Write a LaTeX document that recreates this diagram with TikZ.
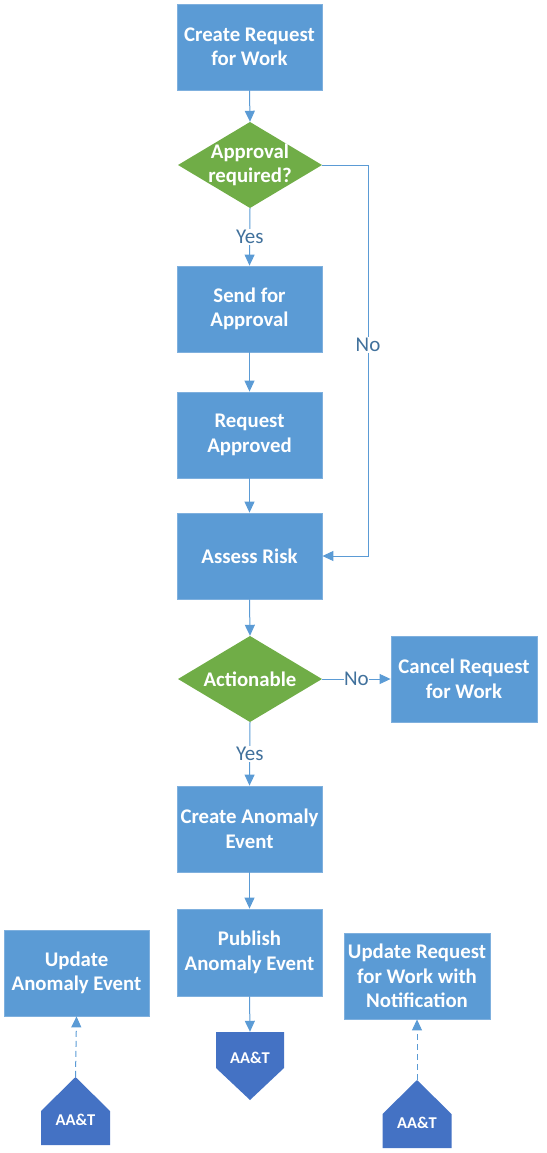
\documentclass[tikz,border=0pt]{standalone}
\usepackage{fontspec}
\setmainfont{Carlito}
\usetikzlibrary{arrows.meta,calc}
\definecolor{boxblue}{HTML}{5B9BD5}
\definecolor{boxedge}{HTML}{7FB0DE}
\definecolor{diagreen}{HTML}{70AD47}
\definecolor{pentblue}{HTML}{4472C4}
\definecolor{linecol}{HTML}{5B9BD5}
\definecolor{lblcol}{HTML}{41719C}
\begin{document}
\begin{tikzpicture}[x=1pt,y=-1pt,
  boxfont/.style={font=\bfseries\fontsize{20.8}{24.5}\selectfont},
  box/.style={rectangle, fill=boxblue, draw=boxedge, line width=0.8pt,
    minimum width=145pt, minimum height=86pt, inner sep=0pt, text=white,
    boxfont, align=center},
  dia/.style={rectangle, minimum width=144pt, minimum height=86pt, inner sep=0pt,
    text=white, boxfont, align=center,
    path picture={\fill[diagreen] (path picture bounding box.north) --
      (path picture bounding box.east) -- (path picture bounding box.south) --
      (path picture bounding box.west) -- cycle;}},
  pentfont/.style={font=\bfseries\fontsize{16.5}{18}\selectfont, text=white},
  pentdown/.style={rectangle, minimum width=68pt, minimum height=68pt, inner sep=0pt,
    path picture={\fill[pentblue] (path picture bounding box.north west) --
      (path picture bounding box.north east) --
      ($(path picture bounding box.north east)+(0,36)$) --
      (path picture bounding box.south) --
      ($(path picture bounding box.north west)+(0,36)$) -- cycle;},
    label={[pentfont, yshift=8pt]center:AA\&T}},
  pentup/.style={rectangle, minimum width=69pt, minimum height=68pt, inner sep=0pt,
    path picture={\fill[pentblue] (path picture bounding box.south west) --
      (path picture bounding box.south east) --
      ($(path picture bounding box.south east)+(0,-34)$) --
      (path picture bounding box.north) --
      ($(path picture bounding box.south west)+(0,-34)$) -- cycle;},
    label={[pentfont, yshift=-9pt]center:AA\&T}},
  arr/.style={draw=linecol, line width=1pt, -{Triangle[width=10pt,length=11pt]}},
  dasharr/.style={arr, dash pattern=on 6pt off 4pt},
  lbl/.style={fill=white, text=lblcol, inner sep=1.5pt, font=\fontsize{21}{22}\selectfont}
]
\useasboundingbox (0,0) rectangle (546,1153);

\node[box] (c1) at (249.5,47) {Create Request\\for Work};
\node[dia] (d1) at (250,165) {Approval\\required?};
\node[box] (send) at (249.5,309) {Send for\\Approval};
\node[box] (appr) at (249.5,435) {Request\\Approved};
\node[box] (risk) at (249.5,556) {Assess Risk};
\node[dia] (d2) at (250,679) {Actionable};
\node[box, minimum width=146pt] (cancel) at (464,679) {Cancel Request\\for Work};
\node[box] (cae) at (249.5,829) {Create Anomaly\\Event};
\node[box, minimum height=87pt] (pub) at (249.5,952.5) {Publish\\Anomaly Event};
\node[box] (updl) at (76.5,973) {Update\\Anomaly Event};
\node[box, minimum width=146pt] (updr) at (417,976) {Update Request\\for Work with\\Notification};
\node[pentdown] (pd) at (250,1066) {};
\node[pentup] (pl) at (75.5,1111) {};
\node[pentup] (pr) at (417,1114) {};

\coordinate (nr1) at (368,165);
\coordinate (nr2) at (368,556);

\draw[arr] (c1.south) -- (d1.north);
\draw[arr] (d1.south) -- node[lbl]{Yes} (send.north);
\draw[arr] (send.south) -- (appr.north);
\draw[arr] (appr.south) -- (risk.north);
\draw[arr] (d1.east) -- (nr1) -- node[lbl, pos=0.46]{No} (nr2) -- (risk.east);
\draw[arr] (risk.south) -- (d2.north);
\draw[arr] (d2.east) -- node[lbl, inner xsep=0pt]{No} (cancel.west);
\draw[arr] (d2.south) -- node[lbl]{Yes} (cae.north);
\draw[arr] (cae.south) -- (pub.north);
\draw[arr] (pub.south) -- (pd.north);
\draw[dasharr] (pl.north) -- (updl.south);
\draw[dasharr] (pr.north) -- (updr.south);
\end{tikzpicture}
\end{document}
